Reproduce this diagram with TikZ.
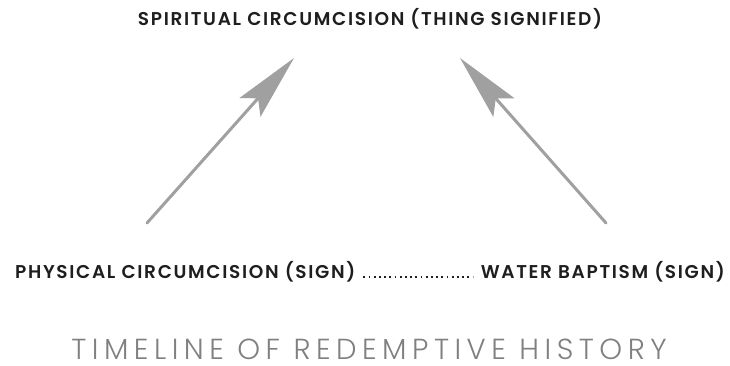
\documentclass[tikz,border=0pt]{standalone}
\usepackage{fontspec}
\setmainfont{Poppins}
\newfontfamily\signfont{Poppins SemiBold}[LetterSpace=9]
\newfontfamily\titlefont{Poppins Light}[LetterSpace=19]
\usepackage{xcolor}
\usepackage{tikz}
\usetikzlibrary{arrows.meta, positioning}
\definecolor{arrowgray}{HTML}{A0A0A0}
\definecolor{textdark}{HTML}{1E1E1E}
\definecolor{titlegray}{HTML}{808080}

\begin{document}
\begin{tikzpicture}[x=1pt, y=-1pt,
    signlabel/.style={font=\signfont\fontsize{18.5}{20}\selectfont, text=textdark, inner sep=0pt},
    pointer/.style={arrowgray, line width=3pt, line cap=round, -{Stealth[length=66pt, width=28pt, inset=12pt]}},
    leader/.style={textdark, line width=1.8pt, dash pattern=on 1.8pt off 3.4pt}]
    \useasboundingbox (0,0) rectangle (730,366);

    % Labels
    \node[signlabel, anchor=base] (spirit) at (370,26) {SPIRITUAL CIRCUMCISION (THING SIGNIFIED)};
    \node[signlabel, anchor=base west] (phys) at (15,278) {PHYSICAL CIRCUMCISION (SIGN)};
    \node[signlabel, anchor=base east] (water) at (725,278) {WATER BAPTISM (SIGN)};
    \node[font=\titlefont\fontsize{29}{32}\selectfont, text=titlegray, inner sep=0pt, anchor=base] (title) at (369,359.5) {TIMELINE OF REDEMPTIVE HISTORY};

    % Dotted leader between the two signs
    \draw[leader] ([xshift=8pt, yshift=0.9pt]phys.base east) -- ([xshift=-8pt, yshift=0.9pt]water.base west);

    % Arrows up to the thing signified
    \coordinate (physup) at (147,223);
    \coordinate (spiritl) at (294,58);
    \coordinate (waterup) at (606,223);
    \coordinate (spiritr) at (460,58);
    \draw[pointer] (physup) -- (spiritl);
    \draw[pointer] (waterup) -- (spiritr);
\end{tikzpicture}
\end{document}
